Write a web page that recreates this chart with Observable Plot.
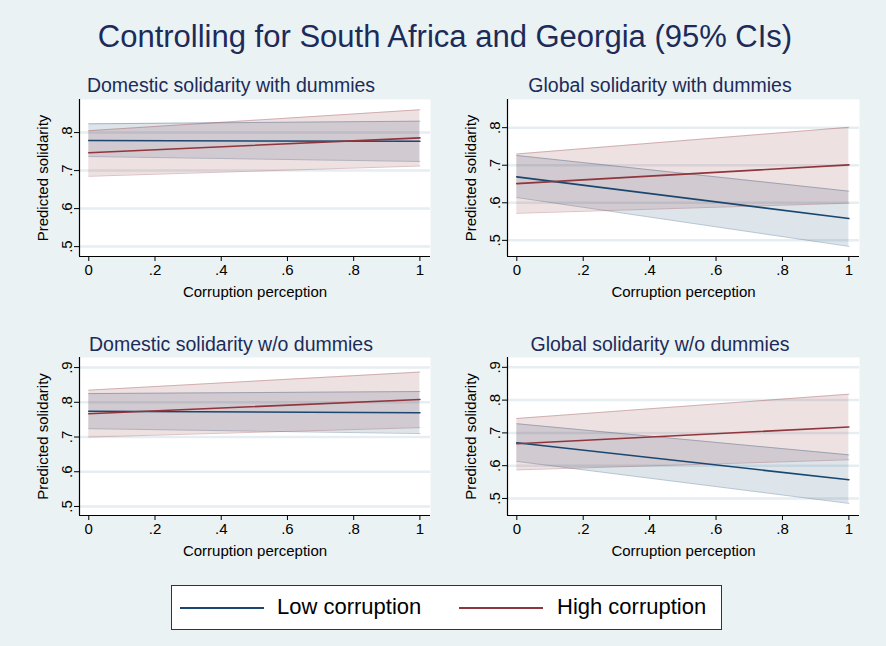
<!DOCTYPE html>
<html>
<head>
<meta charset="utf-8">
<script src="https://cdn.jsdelivr.net/npm/d3@7"></script>
<script src="https://cdn.jsdelivr.net/npm/@observablehq/plot@0.6"></script>
<style>
  html, body { margin: 0; padding: 0; }
  body { width: 886px; height: 646px; overflow: hidden; }
  #chart { position: relative; width: 886px; height: 646px; background: #eaf2f3; font-family: "Liberation Sans", Arial, Helvetica, sans-serif; }
  .title { position: absolute; left: 0; width: 890px; top: 17px; text-align: center; font-size: 31px; color: #1c2b59; line-height: 40px; }
  .sub { position: absolute; width: 400px; text-align: center; font-size: 19.5px; color: #1c2b59; line-height: 22px; }
  .panel { position: absolute; }
  #legend { position: absolute; left: 171px; top: 585px; width: 549px; height: 43px; background: #fff; border: 1px solid #333; }
  #legend .sw { position: absolute; top: 21px; height: 2px; width: 84px; }
  #legend .lt { position: absolute; top: 7px; font-size: 22px; line-height: 28px; color: #000; }
</style>
</head>
<body>
<div id="chart">
  <div class="title">Controlling for South Africa and Georgia (95% CIs)</div>
  <div id="legend">
    <div class="sw" style="left:8px;background:#1a476f"></div>
    <div class="lt" style="left:105px">Low corruption</div>
    <div class="sw" style="left:287px;background:#90353b"></div>
    <div class="lt" style="left:385px">High corruption</div>
  </div>
</div>
<script>
// ---- data ----
const xs = [0, 1];
const xTicks = [0, 0.2, 0.4, 0.6, 0.8, 1];
const subtitles = ["Domestic solidarity with dummies", "Global solidarity with dummies",
                   "Domestic solidarity w/o dummies", "Global solidarity w/o dummies"];
const seriesNames = ["Low corruption", "High corruption"];

// Domestic with dummies
const domWithLowFit = [0.779, 0.777];
const domWithLowLo  = [0.737, 0.724];
const domWithLowHi  = [0.823, 0.830];
const domWithHighFit = [0.747, 0.786];
const domWithHighLo  = [0.685, 0.712];
const domWithHighHi  = [0.805, 0.860];
// Global with dummies
const globWithLowFit = [0.669, 0.558];
const globWithLowLo  = [0.614, 0.484];
const globWithLowHi  = [0.726, 0.631];
const globWithHighFit = [0.651, 0.701];
const globWithHighLo  = [0.572, 0.599];
const globWithHighHi  = [0.730, 0.801];
// Domestic without dummies
const domWoLowFit = [0.774, 0.770];
const domWoLowLo  = [0.724, 0.710];
const domWoLowHi  = [0.825, 0.831];
const domWoHighFit = [0.767, 0.808];
const domWoHighLo  = [0.700, 0.727];
const domWoHighHi  = [0.835, 0.887];
// Global without dummies
const globWoLowFit = [0.670, 0.557];
const globWoLowLo  = [0.613, 0.485];
const globWoLowHi  = [0.728, 0.633];
const globWoHighFit = [0.667, 0.718];
const globWoHighLo  = [0.587, 0.618];
const globWoHighHi  = [0.744, 0.818];

const yTicksA = [0.5, 0.6, 0.7, 0.8];
const yTicksB = [0.5, 0.6, 0.7, 0.8, 0.9];

// ---- helpers ----
const LOW = "#1a476f", HIGH = "#90353b";
const fmt = d => d === 0 ? "0" : d === 1 ? "1" : d3.format(".1f")(d).replace(/^0/, "");
function rows(fit, lo, hi) { return xs.map((x, i) => ({x, fit: fit[i], lo: lo[i], hi: hi[i]})); }

const panels = [
  {sub: subtitles[0], left: 0, top: 70, ml: 79, mr: 13, mt: 29, mb: 54, yDomain: [0.474, 0.887], yTicks: yTicksA, subX: 31, subY: 74,
   low: rows(domWithLowFit, domWithLowLo, domWithLowHi), high: rows(domWithHighFit, domWithHighLo, domWithHighHi)},
  {sub: subtitles[1], left: 443, top: 70, ml: 64, mr: 27, mt: 29, mb: 54, yDomain: [0.457, 0.875], yTicks: yTicksA, subX: 460, subY: 74,
   low: rows(globWithLowFit, globWithLowLo, globWithLowHi), high: rows(globWithHighFit, globWithHighLo, globWithHighHi)},
  {sub: subtitles[2], left: 0, top: 330, ml: 79, mr: 13, mt: 27, mb: 55, yDomain: [0.474, 0.929], yTicks: yTicksB, subX: 31, subY: 333,
   low: rows(domWoLowFit, domWoLowLo, domWoLowHi), high: rows(domWoHighFit, domWoHighLo, domWoHighHi)},
  {sub: subtitles[3], left: 443, top: 330, ml: 64, mr: 27, mt: 27, mb: 55, yDomain: [0.448, 0.930], yTicks: yTicksB, subX: 460, subY: 333,
   low: rows(globWoLowFit, globWoLowLo, globWoLowHi), high: rows(globWoHighFit, globWoHighLo, globWoHighHi)}
];

const chart = document.getElementById("chart");
const xDomain = [-0.028, 1.032];

for (const p of panels) {
  const sub = document.createElement("div");
  sub.className = "sub";
  sub.style.left = p.subX + "px";
  sub.style.top = p.subY + "px";
  sub.textContent = p.sub;
  chart.appendChild(sub);

  const svg = Plot.plot({
    width: 443,
    height: 240,
    marginLeft: p.ml, marginRight: p.mr, marginTop: p.mt, marginBottom: p.mb,
    style: {background: "transparent", fontFamily: "Liberation Sans, Arial, sans-serif", fontSize: "15px", color: "#000", overflow: "visible"},
    x: {domain: xDomain},
    y: {domain: p.yDomain},
    marks: [
      Plot.frame({fill: "white", stroke: "none"}),
      Plot.gridY(p.yTicks, {stroke: "#e6eef1", strokeWidth: 2.5, strokeOpacity: 1}),
      // CI bands
      Plot.areaY(p.low, {x: "x", y1: "lo", y2: "hi", fill: LOW, fillOpacity: 0.15}),
      Plot.line(p.low, {x: "x", y: "lo", stroke: LOW, strokeOpacity: 0.3, strokeWidth: 1}),
      Plot.line(p.low, {x: "x", y: "hi", stroke: LOW, strokeOpacity: 0.3, strokeWidth: 1}),
      Plot.areaY(p.high, {x: "x", y1: "lo", y2: "hi", fill: HIGH, fillOpacity: 0.15}),
      Plot.line(p.high, {x: "x", y: "lo", stroke: HIGH, strokeOpacity: 0.3, strokeWidth: 1}),
      Plot.line(p.high, {x: "x", y: "hi", stroke: HIGH, strokeOpacity: 0.3, strokeWidth: 1}),
      // fitted lines
      Plot.line(p.low, {x: "x", y: "fit", stroke: LOW, strokeWidth: 1.6}),
      Plot.line(p.high, {x: "x", y: "fit", stroke: HIGH, strokeWidth: 1.6}),
      // axes
      Plot.ruleX([xDomain[0]], {stroke: "#000", strokeWidth: 1.2}),
      Plot.ruleY([p.yDomain[0]], {stroke: "#000", strokeWidth: 1.2}),
      Plot.axisX({ticks: xTicks, tickFormat: fmt, tickSize: 5, tickPadding: 3, fontSize: 15,
                  label: "Corruption perception", labelAnchor: "center", labelOffset: 40, labelArrow: "none", stroke: "#000"}),
      Plot.axisY({ticks: p.yTicks, tickFormat: fmt, tickSize: 5, tickPadding: 3, tickRotate: -90, fontSize: 15,
                  label: "Predicted solidarity", labelAnchor: "center", labelOffset: 42, labelArrow: "none", stroke: "#000"})
    ]
  });
  svg.classList.add("panel");
  svg.style.position = "absolute";
  svg.style.left = p.left + "px";
  svg.style.top = p.top + "px";
  chart.appendChild(svg);
}
</script>
</body>
</html>
